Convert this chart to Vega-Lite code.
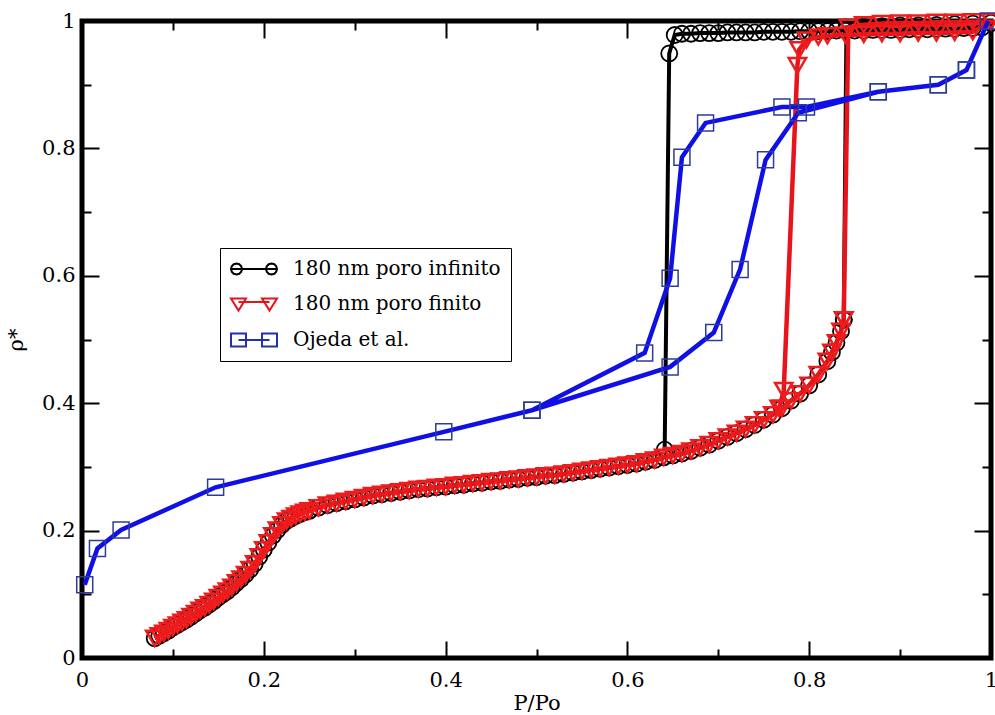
{
"$schema":"https://vega.github.io/schema/vega-lite/v6.json",
"width":909,"height":637,
"autosize":{"type":"none"},
"padding":{"left":82,"top":21,"right":4,"bottom":57},
"background":"white",
"config":{"font":"DejaVu Serif","view":{"stroke":"black","strokeWidth":5},
 "axis":{"labelFont":"DejaVu Serif","titleFont":"DejaVu Serif","grid":false,"domain":false,"tickColor":"black","tickWidth":2,"labelColor":"black","titleColor":"black","titleFontWeight":"normal"},
 "legend":{"labelFont":"DejaVu Serif"}},
"datasets":{"d":[
{"s":"low","x":0.080,"y":0.031},{"s":"low","x":0.085,"y":0.035},{"s":"low","x":0.090,"y":0.039},{"s":"low","x":0.095,"y":0.043},{"s":"low","x":0.100,"y":0.048},{"s":"low","x":0.105,"y":0.052},{"s":"low","x":0.110,"y":0.056},{"s":"low","x":0.115,"y":0.060},{"s":"low","x":0.120,"y":0.065},{"s":"low","x":0.125,"y":0.070},{"s":"low","x":0.130,"y":0.075},{"s":"low","x":0.135,"y":0.079},{"s":"low","x":0.140,"y":0.084},{"s":"low","x":0.145,"y":0.089},{"s":"low","x":0.150,"y":0.095},{"s":"low","x":0.155,"y":0.100},{"s":"low","x":0.160,"y":0.105},{"s":"low","x":0.165,"y":0.111},{"s":"low","x":0.170,"y":0.118},{"s":"low","x":0.175,"y":0.124},{"s":"low","x":0.180,"y":0.131},{"s":"low","x":0.185,"y":0.139},{"s":"low","x":0.190,"y":0.148},{"s":"low","x":0.195,"y":0.159},{"s":"low","x":0.200,"y":0.170},{"s":"low","x":0.205,"y":0.181},{"s":"low","x":0.210,"y":0.192},{"s":"low","x":0.215,"y":0.201},{"s":"low","x":0.220,"y":0.209},{"s":"low","x":0.225,"y":0.215},{"s":"low","x":0.230,"y":0.219},{"s":"low","x":0.235,"y":0.223},{"s":"low","x":0.240,"y":0.226},{"s":"low","x":0.245,"y":0.229},{"s":"low","x":0.250,"y":0.231},{"s":"low","x":0.26,"y":0.236},{"s":"low","x":0.27,"y":0.240},{"s":"low","x":0.28,"y":0.243},{"s":"low","x":0.29,"y":0.246},{"s":"low","x":0.30,"y":0.249},{"s":"low","x":0.31,"y":0.252},{"s":"low","x":0.32,"y":0.255},{"s":"low","x":0.33,"y":0.257},{"s":"low","x":0.34,"y":0.259},{"s":"low","x":0.35,"y":0.261},{"s":"low","x":0.36,"y":0.263},{"s":"low","x":0.37,"y":0.265},{"s":"low","x":0.38,"y":0.266},{"s":"low","x":0.39,"y":0.268},{"s":"low","x":0.40,"y":0.269},{"s":"low","x":0.41,"y":0.271},{"s":"low","x":0.42,"y":0.272},{"s":"low","x":0.43,"y":0.274},{"s":"low","x":0.44,"y":0.275},{"s":"low","x":0.45,"y":0.277},{"s":"low","x":0.46,"y":0.278},{"s":"low","x":0.47,"y":0.280},{"s":"low","x":0.48,"y":0.281},{"s":"low","x":0.49,"y":0.283},{"s":"low","x":0.50,"y":0.284},{"s":"low","x":0.51,"y":0.286},{"s":"low","x":0.52,"y":0.287},{"s":"low","x":0.53,"y":0.289},{"s":"low","x":0.54,"y":0.291},{"s":"low","x":0.55,"y":0.293},{"s":"low","x":0.56,"y":0.295},{"s":"low","x":0.57,"y":0.297},{"s":"low","x":0.58,"y":0.299},{"s":"low","x":0.59,"y":0.301},{"s":"low","x":0.60,"y":0.303},{"s":"low","x":0.61,"y":0.305},{"s":"low","x":0.62,"y":0.308},{"s":"low","x":0.63,"y":0.311},{"s":"low","x":0.64,"y":0.315},{"s":"low","x":0.65,"y":0.318},{"s":"low","x":0.66,"y":0.321},{"s":"low","x":0.67,"y":0.325},{"s":"low","x":0.68,"y":0.330},{"s":"low","x":0.69,"y":0.335},{"s":"low","x":0.70,"y":0.341},{"s":"low","x":0.71,"y":0.347},{"s":"low","x":0.72,"y":0.353},{"s":"low","x":0.73,"y":0.359},{"s":"low","x":0.74,"y":0.366},{"s":"low","x":0.75,"y":0.374},{"s":"low","x":0.76,"y":0.382},{"s":"low","x":0.77,"y":0.392},{"s":"low","x":0.78,"y":0.404},{"s":"low","x":0.79,"y":0.415},{"s":"low","x":0.80,"y":0.428},{"s":"low","x":0.81,"y":0.445},{"s":"low","x":0.82,"y":0.466},{"s":"low","x":0.825,"y":0.480},{"s":"low","x":0.83,"y":0.495},{"s":"low","x":0.835,"y":0.513},{"s":"low","x":0.838,"y":0.531},
{"s":"bk","x":0.838,"y":0.531},{"s":"bk","x":0.841,"y":0.99},{"s":"bk","x":0.86,"y":0.991},{"s":"bk","x":0.88,"y":0.992},{"s":"bk","x":0.9,"y":0.993},{"s":"bk","x":0.92,"y":0.993},{"s":"bk","x":0.94,"y":0.994},{"s":"bk","x":0.96,"y":0.995},{"s":"bk","x":0.98,"y":0.996},{"s":"bk","x":1.0,"y":0.997},
{"s":"bk","x":0.99,"y":0.99},{"s":"bk","x":0.98,"y":0.989},{"s":"bk","x":0.97,"y":0.989},{"s":"bk","x":0.96,"y":0.988},{"s":"bk","x":0.95,"y":0.988},{"s":"bk","x":0.94,"y":0.988},{"s":"bk","x":0.93,"y":0.987},{"s":"bk","x":0.92,"y":0.987},{"s":"bk","x":0.91,"y":0.987},{"s":"bk","x":0.9,"y":0.986},{"s":"bk","x":0.89,"y":0.986},{"s":"bk","x":0.88,"y":0.986},{"s":"bk","x":0.87,"y":0.986},{"s":"bk","x":0.86,"y":0.985},{"s":"bk","x":0.85,"y":0.985},{"s":"bk","x":0.84,"y":0.985},{"s":"bk","x":0.83,"y":0.985},{"s":"bk","x":0.82,"y":0.984},{"s":"bk","x":0.81,"y":0.984},{"s":"bk","x":0.8,"y":0.984},{"s":"bk","x":0.79,"y":0.984},{"s":"bk","x":0.78,"y":0.983},{"s":"bk","x":0.77,"y":0.983},{"s":"bk","x":0.76,"y":0.983},{"s":"bk","x":0.75,"y":0.983},{"s":"bk","x":0.74,"y":0.982},{"s":"bk","x":0.73,"y":0.982},{"s":"bk","x":0.72,"y":0.982},{"s":"bk","x":0.71,"y":0.982},{"s":"bk","x":0.7,"y":0.981},{"s":"bk","x":0.69,"y":0.981},{"s":"bk","x":0.68,"y":0.981},{"s":"bk","x":0.67,"y":0.98},{"s":"bk","x":0.66,"y":0.98},{"s":"bk","x":0.652,"y":0.978},{"s":"bk","x":0.646,"y":0.949},{"s":"bk","x":0.641,"y":0.327},
{"s":"rd","x":0.838,"y":0.531},{"s":"rd","x":0.843,"y":0.99},{"s":"rd","x":0.86,"y":0.994},{"s":"rd","x":0.88,"y":0.996},{"s":"rd","x":0.9,"y":0.997},{"s":"rd","x":0.92,"y":0.997},{"s":"rd","x":0.94,"y":0.998},{"s":"rd","x":0.96,"y":0.998},{"s":"rd","x":0.98,"y":0.999},{"s":"rd","x":1.0,"y":0.999},
{"s":"rd","x":0.98,"y":0.983},{"s":"rd","x":0.96,"y":0.982},{"s":"rd","x":0.94,"y":0.981},{"s":"rd","x":0.92,"y":0.981},{"s":"rd","x":0.9,"y":0.98},{"s":"rd","x":0.88,"y":0.98},{"s":"rd","x":0.86,"y":0.979},{"s":"rd","x":0.84,"y":0.978},{"s":"rd","x":0.82,"y":0.977},{"s":"rd","x":0.81,"y":0.975},{"s":"rd","x":0.797,"y":0.97},{"s":"rd","x":0.789,"y":0.955},{"s":"rd","x":0.787,"y":0.93},{"s":"rd","x":0.772,"y":0.42},{"s":"rd","x":0.767,"y":0.392},
{"s":"bl","x":0.003,"y":0.115},{"s":"bl","x":0.017,"y":0.172},{"s":"bl","x":0.043,"y":0.201},{"s":"bl","x":0.147,"y":0.268},{"s":"bl","x":0.398,"y":0.355},{"s":"bl","x":0.495,"y":0.389},{"s":"bl","x":0.647,"y":0.457},{"s":"bl","x":0.695,"y":0.511},{"s":"bl","x":0.724,"y":0.61},{"s":"bl","x":0.752,"y":0.782},{"s":"bl","x":0.788,"y":0.856},{"s":"bl","x":0.876,"y":0.889},{"s":"bl","x":0.942,"y":0.9},{"s":"bl","x":0.973,"y":0.923},{"s":"bl","x":0.997,"y":1.0},{"s":"bl","x":0.973,"y":0.923},{"s":"bl","x":0.942,"y":0.9},{"s":"bl","x":0.876,"y":0.889},{"s":"bl","x":0.797,"y":0.865},{"s":"bl","x":0.77,"y":0.865},{"s":"bl","x":0.686,"y":0.84},{"s":"bl","x":0.66,"y":0.786},{"s":"bl","x":0.647,"y":0.596},{"s":"bl","x":0.619,"y":0.479},{"s":"bl","x":0.495,"y":0.389}
]},
"data":{"name":"d"},
"resolve":{"axis":{"x":"independent","y":"independent"}},
"layer":[
{"transform":[{"filter":{"field":"s","oneOf":["low","bk"]}}],
 "mark":{"type":"line","color":"black","strokeWidth":4},
 "encoding":{
  "x":{"field":"x","type":"quantitative","scale":{"domain":[0,1],"nice":false,"zero":false},
   "axis":{"orient":"bottom","values":[0,0.1,0.2,0.3,0.4,0.5,0.6,0.7,0.8,0.9,1],"title":"P/Po","tickSize":{"condition":{"test":"round(datum.value*10)%2==0","value":-17},"value":-9},"labelExpr":"round(datum.value*10)%2==0 ? format(datum.value,'.1~f') : ''","labelFontSize":21,"labelPadding":28,"labelFlush":false,"labelOverlap":false,"titleFontSize":21,"titlePadding":-6}},
  "y":{"field":"y","type":"quantitative","scale":{"domain":[0,1],"nice":false,"zero":false},
   "axis":{"orient":"left","values":[0,0.1,0.2,0.3,0.4,0.5,0.6,0.7,0.8,0.9,1],"title":"ρ*","tickSize":{"condition":{"test":"round(datum.value*10)%2==0","value":-17},"value":-9},"labelExpr":"round(datum.value*10)%2==0 ? format(datum.value,'.1~f') : ''","labelFontSize":21,"labelPadding":24,"labelFlush":false,"labelOverlap":false,"titleFontSize":21,"titlePadding":15}},
  "detail":{"field":"s"},
  "order":{"value":null}}},
{"transform":[{"filter":{"field":"s","oneOf":["low","bk"]}}],
 "mark":{"type":"point","shape":"circle","filled":false,"stroke":"black","strokeWidth":1.8,"size":256,"opacity":1},
 "encoding":{
  "x":{"field":"x","type":"quantitative","scale":{"domain":[0,1],"nice":false,"zero":false},
   "axis":{"orient":"top","values":[0,0.1,0.2,0.3,0.4,0.5,0.6,0.7,0.8,0.9,1],"title":null,"labels":false,"tickSize":{"condition":{"test":"round(datum.value*10)%2==0","value":-17},"value":-9}}},
  "y":{"field":"y","type":"quantitative","scale":{"domain":[0,1],"nice":false,"zero":false},
   "axis":{"orient":"right","values":[0,0.1,0.2,0.3,0.4,0.5,0.6,0.7,0.8,0.9,1],"title":null,"labels":false,"tickSize":{"condition":{"test":"round(datum.value*10)%2==0","value":-17},"value":-9}}}}},
{"transform":[{"filter":{"field":"s","oneOf":["low","rd"]}}],
 "mark":{"type":"line","color":"#e8141a","strokeWidth":4.5},
 "encoding":{"x":{"field":"x","type":"quantitative","axis":null},"y":{"field":"y","type":"quantitative","axis":null},"detail":{"field":"s"},"order":{"value":null}}},
{"transform":[{"filter":{"field":"s","oneOf":["low","rd"]}}],
 "mark":{"type":"point","shape":"triangle-down","filled":false,"stroke":"#ee1c1c","strokeWidth":2.5,"size":300,"opacity":1},
 "encoding":{"x":{"field":"x","type":"quantitative","axis":null},"y":{"field":"y","type":"quantitative","axis":null}}},
{"transform":[{"filter":{"field":"s","equal":"bl"}}],
 "mark":{"type":"line","color":"#1010e6","strokeWidth":4.5},
 "encoding":{"x":{"field":"x","type":"quantitative","axis":null},"y":{"field":"y","type":"quantitative","axis":null},"order":{"value":null}}},
{"transform":[{"filter":{"field":"s","equal":"bl"}}],
 "mark":{"type":"point","shape":"square","filled":false,"stroke":"#2b3d9a","strokeWidth":1.5,"size":256,"opacity":1},
 "encoding":{"x":{"field":"x","type":"quantitative","axis":null},"y":{"field":"y","type":"quantitative","axis":null}}},
{"transform":[{"filter":{"field":"s","equal":"none"}}],
 "mark":{"type":"point","filled":false,"strokeWidth":2,"opacity":1},
 "encoding":{"x":{"field":"x","type":"quantitative","axis":null},"y":{"field":"y","type":"quantitative","axis":null},
  "shape":{"field":"lg","type":"nominal","scale":{"domain":["180 nm poro infinito","180 nm poro finito","Ojeda et al."],"range":[
   "M-1,0L3.6,0M0.1,0L0.026,0.275L-0.175,0.476L-0.45,0.55L-0.725,0.476L-0.926,0.275L-1,0L-0.926,-0.275L-0.725,-0.476L-0.45,-0.55L-0.175,-0.476L0.026,-0.275ZM3.6,0L3.526,0.275L3.325,0.476L3.05,0.55L2.775,0.476L2.574,0.275L2.5,0L2.574,-0.275L2.775,-0.476L3.05,-0.55L3.325,-0.476L3.526,-0.275Z",
   "M-1,-0.55L0.5,-0.55L-0.25,0.65ZM2.1,-0.55L3.6,-0.55L2.85,0.65ZM-0.25,-0.2L2.85,-0.2",
   "M-1,-0.65L0.5,-0.65L0.5,0.65L-1,0.65ZM2.1,-0.65L3.6,-0.65L3.6,0.65L2.1,0.65ZM-0.25,0L2.85,0"]},
   "legend":{"orient":"none","legendX":138,"legendY":227,"title":null,"symbolSize":400,"symbolStrokeWidth":2,"symbolFillColor":"transparent","labelFont":"DejaVu Serif","labelFontSize":20,"labelColor":"black","labelOffset":41,"labelLimit":400,"padding":10,"rowPadding":14,"strokeColor":"black","fillColor":"white","cornerRadius":0}},
  "stroke":{"field":"lg","type":"nominal","scale":{"domain":["180 nm poro infinito","180 nm poro finito","Ojeda et al."],"range":["black","#e8141a","#2030b0"]},
   "legend":{"orient":"none","legendX":138,"legendY":227,"title":null,"symbolSize":400,"symbolStrokeWidth":2,"symbolFillColor":"transparent","labelFont":"DejaVu Serif","labelFontSize":20,"labelColor":"black","labelOffset":41,"labelLimit":400,"padding":10,"rowPadding":14,"strokeColor":"black","fillColor":"white","cornerRadius":0}}}}
]
}
